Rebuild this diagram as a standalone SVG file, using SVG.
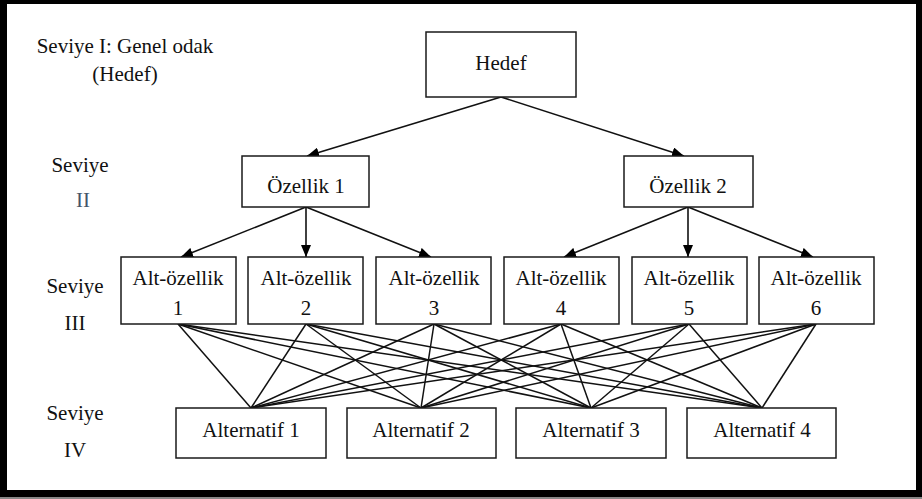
<svg xmlns="http://www.w3.org/2000/svg" width="922" height="499" viewBox="0 0 922 499">
<defs>
<style>
.box{fill:#fff;stroke:#1a1a1a;stroke-width:1.5}
.t{font-family:"Liberation Serif","Times New Roman",serif;font-size:21px;fill:#111;text-anchor:middle}
.c{stroke:#111;stroke-width:1.5;fill:none}
.a{stroke:#111;stroke-width:1.6;fill:none;marker-end:url(#ah)}
</style>
<marker id="ah" viewBox="0 0 12 10" refX="12" refY="5" markerWidth="12" markerHeight="10" markerUnits="userSpaceOnUse" orient="auto">
<path d="M0,0 L12,5 L0,10 Z" fill="#000"/>
</marker>
</defs>
<rect x="0" y="0" width="922" height="499" fill="#000"/>
<rect x="0" y="497" width="922" height="2" fill="#888"/>
<rect x="7" y="4" width="909" height="486" fill="#fff"/>

<g id="labels">
<text class="t" x="125" y="53">Seviye I: Genel odak</text>
<text class="t" x="125" y="81">(Hedef)</text>
<text class="t" x="80" y="172">Seviye</text>
<text class="t" x="83" y="207" fill="#44546A" style="fill:#44546A">II</text>
<text class="t" x="75" y="293">Seviye</text>
<text class="t" x="75" y="330">III</text>
<text class="t" x="75" y="420">Seviye</text>
<text class="t" x="75" y="457">IV</text>
</g>

<g id="connectors">
<line class="a" x1="501" y1="97" x2="307" y2="156"/>
<line class="a" x1="501" y1="97" x2="684" y2="156"/>
<line class="a" x1="306" y1="207" x2="181" y2="257"/>
<line class="a" x1="306" y1="207" x2="306" y2="257"/>
<line class="a" x1="306" y1="207" x2="431" y2="257"/>
<line class="a" x1="688" y1="207" x2="564" y2="257"/>
<line class="a" x1="688" y1="207" x2="688" y2="257"/>
<line class="a" x1="688" y1="207" x2="813" y2="257"/>
<g class="c">
<line x1="178" y1="324" x2="251" y2="408"/><line x1="178" y1="324" x2="421" y2="408"/><line x1="178" y1="324" x2="591" y2="408"/><line x1="178" y1="324" x2="762" y2="408"/>
<line x1="306" y1="324" x2="251" y2="408"/><line x1="306" y1="324" x2="421" y2="408"/><line x1="306" y1="324" x2="591" y2="408"/><line x1="306" y1="324" x2="762" y2="408"/>
<line x1="434" y1="324" x2="251" y2="408"/><line x1="434" y1="324" x2="421" y2="408"/><line x1="434" y1="324" x2="591" y2="408"/><line x1="434" y1="324" x2="762" y2="408"/>
<line x1="561" y1="324" x2="251" y2="408"/><line x1="561" y1="324" x2="421" y2="408"/><line x1="561" y1="324" x2="591" y2="408"/><line x1="561" y1="324" x2="762" y2="408"/>
<line x1="689" y1="324" x2="251" y2="408"/><line x1="689" y1="324" x2="421" y2="408"/><line x1="689" y1="324" x2="591" y2="408"/><line x1="689" y1="324" x2="762" y2="408"/>
<line x1="816" y1="324" x2="251" y2="408"/><line x1="816" y1="324" x2="421" y2="408"/><line x1="816" y1="324" x2="591" y2="408"/><line x1="816" y1="324" x2="762" y2="408"/>
</g>
</g>

<g id="hedef"><rect class="box" x="426" y="32" width="150" height="65"/><text class="t" x="501" y="70">Hedef</text></g>
<g id="ozellik1"><rect class="box" x="242" y="156" width="127" height="51"/><text class="t" x="306" y="193">Özellik 1</text></g>
<g id="ozellik2"><rect class="box" x="624" y="156" width="129" height="51"/><text class="t" x="688" y="193">Özellik 2</text></g>

<g id="alt1"><rect class="box" x="121" y="257" width="115" height="67"/><text class="t" x="178" y="285">Alt-özellik</text><text class="t" x="178" y="315">1</text></g>
<g id="alt2"><rect class="box" x="248" y="257" width="115" height="67"/><text class="t" x="306" y="285">Alt-özellik</text><text class="t" x="306" y="315">2</text></g>
<g id="alt3"><rect class="box" x="376" y="257" width="115" height="67"/><text class="t" x="434" y="285">Alt-özellik</text><text class="t" x="434" y="315">3</text></g>
<g id="alt4"><rect class="box" x="504" y="257" width="115" height="67"/><text class="t" x="561" y="285">Alt-özellik</text><text class="t" x="561" y="315">4</text></g>
<g id="alt5"><rect class="box" x="632" y="257" width="115" height="67"/><text class="t" x="689" y="285">Alt-özellik</text><text class="t" x="689" y="315">5</text></g>
<g id="alt6"><rect class="box" x="759" y="257" width="115" height="67"/><text class="t" x="816" y="285">Alt-özellik</text><text class="t" x="816" y="315">6</text></g>

<g id="alternatif1"><rect class="box" x="176" y="408" width="150" height="50"/><text class="t" x="251" y="437">Alternatif 1</text></g>
<g id="alternatif2"><rect class="box" x="347" y="408" width="149" height="50"/><text class="t" x="421" y="437">Alternatif 2</text></g>
<g id="alternatif3"><rect class="box" x="516" y="408" width="150" height="50"/><text class="t" x="591" y="437">Alternatif 3</text></g>
<g id="alternatif4"><rect class="box" x="687" y="408" width="149" height="50"/><text class="t" x="762" y="437">Alternatif 4</text></g>
</svg>
